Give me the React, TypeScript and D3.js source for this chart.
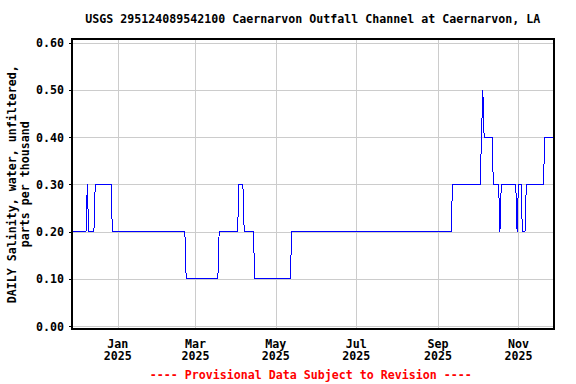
import React from "react";
import * as d3 from "d3";

// ---- data ----
const titleText = "USGS 295124089542100 Caernarvon Outfall Channel at Caernarvon, LA";
const yLabelLines = ["DAILY Salinity, water, unfiltered,", "parts per thousand"];
const footerText = "---- Provisional Data Subject to Revision ----";

// run-length encoded daily values: each value holds from its start date until the next start
const runStarts = [
  "2024-11-27", "2024-12-09", "2024-12-10", "2024-12-15", "2024-12-28",
  "2025-02-22", "2025-03-19", "2025-04-03", "2025-04-07", "2025-04-15",
  "2025-05-13", "2025-09-12", "2025-10-04", "2025-10-05", "2025-10-06",
  "2025-10-13", "2025-10-18", "2025-10-19", "2025-10-31", "2025-11-01",
  "2025-11-04", "2025-11-07", "2025-11-21",
];
const runValues = [
  0.2, 0.3, 0.2, 0.3, 0.2,
  0.1, 0.2, 0.3, 0.2, 0.1,
  0.2, 0.3, 0.4, 0.5, 0.4,
  0.3, 0.2, 0.3, 0.2, 0.3,
  0.2, 0.3, 0.4,
];
const lastDay = "2025-11-27";

const yTicks = [0, 0.1, 0.2, 0.3, 0.4, 0.5, 0.6];
const xTickDates = ["2025-01-01", "2025-03-01", "2025-05-01", "2025-07-01", "2025-09-01", "2025-11-01"];
const xTickMonths = ["Jan", "Mar", "May", "Jul", "Sep", "Nov"];
const xTickYears = ["2025", "2025", "2025", "2025", "2025", "2025"];

const parse = (s: string) => {
  const [y, m, d] = s.split("-").map(Number);
  return new Date(y, m - 1, d);
};

function expandDaily() {
  const pts: { date: Date; value: number }[] = [];
  const end = parse(lastDay);
  for (let i = 0; i < runStarts.length; i++) {
    const s = parse(runStarts[i]);
    const e = i + 1 < runStarts.length ? d3.timeDay.offset(parse(runStarts[i + 1]), -1) : end;
    for (const day of d3.timeDay.range(s, d3.timeDay.offset(e, 1))) {
      pts.push({ date: day, value: runValues[i] });
    }
  }
  return pts;
}

export default function App() {
  const W = 576, H = 384;
  const left = 71.5, right = 554, top = 39.3, bottom = 329;
  const x = d3.scaleTime().domain([parse("2024-11-27"), parse("2025-11-28")]).range([left, right]);
  const y = d3.scaleLinear().domain([0, 0.6]).range([326.2, 42.6]);
  const data = expandDaily();
  const line = d3.line<{ date: Date; value: number }>().x((d) => x(d.date)).y((d) => y(d.value));
  const font = "'DejaVu Sans Mono', monospace";
  const fs = 11.63;
  const cx = (left + right) / 2;
  const cy = (top + bottom) / 2;

  return (
    <svg width={W} height={H} style={{ position: "absolute", left: 0, top: 0, background: "#fff" }}
      fontFamily={font} fontWeight="bold" fontSize={fs}>
      <rect x={0} y={0} width={W} height={H} fill="#fff" />
      <text x={cx} y={23} textAnchor="middle" fill="#000">{titleText}</text>
      {/* gridlines */}
      {yTicks.map((t) => (
        <line key={"gy" + t} x1={left} x2={right} y1={Math.round(y(t)) + 0.5} y2={Math.round(y(t)) + 0.5}
          stroke="#cccccc" strokeWidth={1} shapeRendering="crispEdges" />
      ))}
      {xTickDates.map((t) => (
        <line key={"gx" + t} x1={Math.round(x(parse(t))) + 0.5} x2={Math.round(x(parse(t))) + 0.5} y1={top} y2={bottom}
          stroke="#cccccc" strokeWidth={1} shapeRendering="crispEdges" />
      ))}
      {/* data */}
      <path d={line(data) || ""} fill="none" stroke="#0000ff" strokeWidth={1} shapeRendering="crispEdges" />
      {/* frame */}
      <rect x={left} y={top} width={right - left} height={bottom - top} fill="none" stroke="#000" strokeWidth={2} shapeRendering="crispEdges" />
      {/* y ticks and labels */}
      {yTicks.map((t) => (
        <g key={"yt" + t}>
          <line x1={left - 3} x2={left} y1={Math.round(y(t)) + 0.5} y2={Math.round(y(t)) + 0.5} stroke="#000" strokeWidth={1} shapeRendering="crispEdges" />
          <text x={64} y={y(t) + 4.5} textAnchor="end" fill="#000">{d3.format(".2f")(t)}</text>
        </g>
      ))}
      {/* x labels */}
      {xTickDates.map((t, i) => (
        <g key={"xt" + t}>
          <text x={x(parse(t))} y={347.5} textAnchor="middle" fill="#000">{xTickMonths[i]}</text>
          <text x={x(parse(t))} y={360} textAnchor="middle" fill="#000">{xTickYears[i]}</text>
        </g>
      ))}
      {/* y axis label */}
      <text transform={`translate(16,${cy}) rotate(-90)`} textAnchor="middle" fill="#000">{yLabelLines[0]}</text>
      <text transform={`translate(29,${cy}) rotate(-90)`} textAnchor="middle" fill="#000">{yLabelLines[1]}</text>
      {/* footer */}
      <text x={cx - 2} y={379} textAnchor="middle" fill="#ff0000">{footerText}</text>
    </svg>
  );
}
